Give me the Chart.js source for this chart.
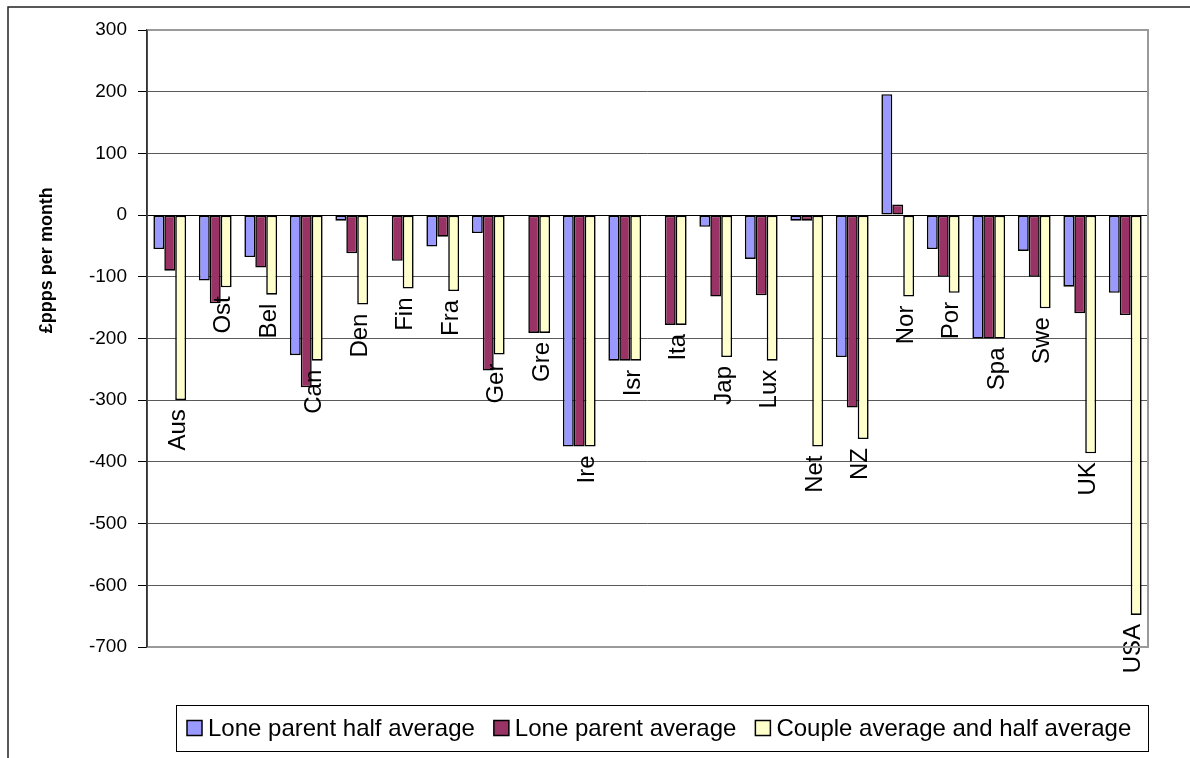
<!DOCTYPE html>
<html>
<head>
<meta charset="utf-8">
<title>Lone parent and couple gaps</title>
<script src="https://cdn.jsdelivr.net/npm/chart.js@4.4.1/dist/chart.umd.min.js"></script>
<style>
  html, body { margin: 0; padding: 0; background: #fff; }
  #wrap { width: 1190px; height: 758px; }
</style>
</head>
<body>
<div id="wrap"><canvas id="gapChart" width="1190" height="758"></canvas></div>
<script>
// countries along the category axis
const countries = ['Aus', 'Ost', 'Bel', 'Can', 'Den', 'Fin', 'Fra', 'Ger', 'Gre', 'Ire', 'Isr',
                   'Ita', 'Jap', 'Lux', 'Net', 'NZ', 'Nor', 'Por', 'Spa', 'Swe', 'UK', 'USA'];

// £ppps per month
const loneParentHalf = [-55, -106, -68, -227, -9, 0, -51, -29, 0, -375, -236,
                        0, -19, -71, -9, -230, 196, -55, -200, -58, -116, -126];
const loneParentAvg  = [-90, -143, -85, -279, -62, -74, -35, -252, -191, -375, -236,
                        -178, -132, -130, -9, -312, 17, -100, -200, -100, -159, -162];
const coupleAvgHalf  = [-300, -117, -129, -236, -145, -119, -123, -226, -191, -375, -236,
                        -178, -230, -236, -375, -363, -132, -126, -200, -151, -386, -648];

const seriesNames = ['Lone parent half average', 'Lone parent average', 'Couple average and half average'];

const yMin = -700;
const yMax = 300;
const yStep = 100;

const FONT = "'Liberation Sans', Arial, sans-serif";

// white page with the frame line along the top and left
const frame = {
    id: 'frame',
    beforeDraw(chart) {
        const c = chart.ctx;
        c.save();
        c.fillStyle = '#fff';
        c.fillRect(0, 0, chart.width, chart.height);
        c.strokeStyle = '#222';
        c.lineWidth = 1.5;
        c.beginPath();
        c.moveTo(8, chart.height);
        c.lineTo(8, 7);
        c.lineTo(chart.width, 7);
        c.stroke();
        c.restore();
    }
};

// country names printed upright under the couple bar
const countryLabels = {
    id: 'countryLabels',
    afterDatasetsDraw(chart) {
        const c = chart.ctx;
        const meta = chart.getDatasetMeta(2);
        c.save();
        c.fillStyle = '#000';
        c.font = '24px ' + FONT;
        c.textAlign = 'right';
        c.textBaseline = 'middle';
        meta.data.forEach((bar, i) => {
            const low = Math.max(bar.y, bar.base);
            c.save();
            c.translate(bar.x - 2.5, low + 9);
            c.rotate(-Math.PI / 2);
            c.fillText(chart.data.labels[i], 0, 0);
            c.restore();
        });
        c.restore();
    }
};

// plot border, axis title and boxed legend
const extras = {
    id: 'extras',
    afterDraw(chart) {
        const c = chart.ctx;
        const a = chart.chartArea;
        c.save();

        c.strokeStyle = '#9a9a9a';
        c.lineWidth = 2;
        c.beginPath();
        c.moveTo(a.left, a.top);
        c.lineTo(a.right, a.top);
        c.lineTo(a.right, a.bottom);
        c.lineTo(a.left, a.bottom);
        c.stroke();
        c.strokeStyle = '#333';
        c.lineWidth = 1.5;
        c.beginPath();
        c.moveTo(a.left, a.top);
        c.lineTo(a.left, a.bottom);
        c.stroke();

        // y axis title
        c.save();
        c.translate(47, a.top + a.height * 0.373);
        c.rotate(-Math.PI / 2);
        c.fillStyle = '#000';
        c.font = 'bold 18px ' + FONT;
        c.textAlign = 'center';
        c.textBaseline = 'middle';
        c.fillText('£ppps per month', 0, 0);
        c.restore();

        // legend
        const boxL = a.left + 29, boxR = a.right;
        const boxT = a.bottom + 58, boxH = 46;
        c.strokeStyle = '#000';
        c.lineWidth = 1;
        c.strokeRect(boxL + 0.5, boxT + 0.5, boxR - boxL, boxH);
        c.font = '24px ' + FONT;
        c.textAlign = 'left';
        c.textBaseline = 'alphabetic';
        let x = boxL + 11;
        const midY = boxT + boxH / 2;
        chart.data.datasets.forEach(ds => {
            c.fillStyle = ds.backgroundColor;
            c.fillRect(x, midY - 7.5, 15, 15);
            c.strokeStyle = '#000';
            c.lineWidth = 1.5;
            c.strokeRect(x, midY - 7.5, 15, 15);
            c.fillStyle = '#000';
            c.fillText(ds.label, x + 21, midY + 8);
            x += 21 + c.measureText(ds.label).width + 19;
        });
        c.restore();
    }
};

const ctx = document.getElementById('gapChart').getContext('2d');
new Chart(ctx, {
    type: 'bar',
    data: {
        labels: countries,
        datasets: [
            { label: seriesNames[0], data: loneParentHalf, backgroundColor: '#9999ff' },
            { label: seriesNames[1], data: loneParentAvg,  backgroundColor: '#993366' },
            { label: seriesNames[2], data: coupleAvgHalf,  backgroundColor: '#ffffcc' }
        ].map(ds => Object.assign(ds, {
            borderColor: '#000',
            borderWidth: 1.6,
            borderSkipped: false,
            categoryPercentage: 0.72,
            barPercentage: 1.0
        }))
    },
    options: {
        responsive: false,
        animation: false,
        devicePixelRatio: 1,
        layout: { padding: { left: 0, right: 42, top: 30, bottom: 111 } },
        plugins: {
            legend: { display: false },
            tooltip: { enabled: false }
        },
        scales: {
            x: { display: false },
            y: {
                min: yMin,
                max: yMax,
                afterFit(scale) { scale.width = 147; },
                ticks: {
                    stepSize: yStep,
                    color: '#000',
                    padding: 11,
                    font: { family: FONT, size: 19 }
                },
                grid: {
                    color: c => c.tick && c.tick.value === 0 ? '#000' : '#5a5a5a',
                    lineWidth: 1,
                    tickLength: 9,
                    tickColor: '#000'
                },
                border: { display: true, color: '#333', width: 1.5 }
            }
        }
    },
    plugins: [frame, countryLabels, extras]
});
</script>
</body>
</html>
